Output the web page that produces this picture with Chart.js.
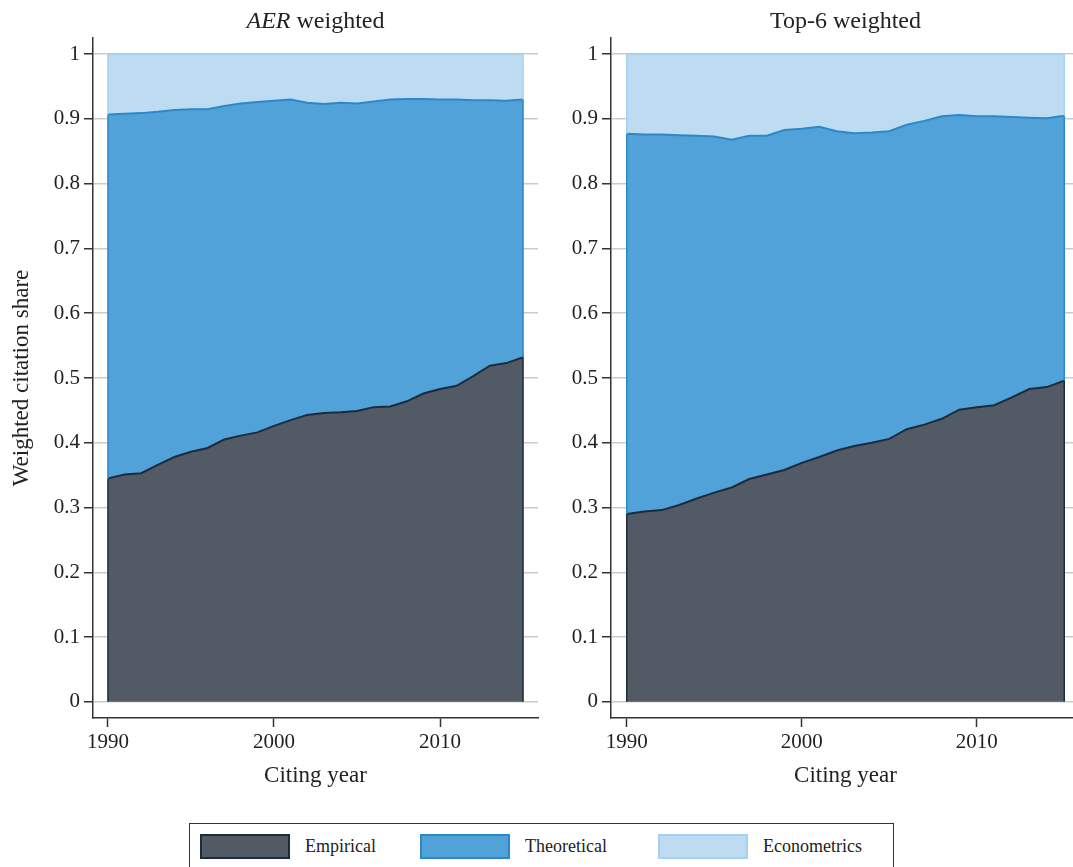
<!DOCTYPE html>
<html lang="en">
<head>
<meta charset="UTF-8">
<title>Weighted citation share</title>
<script src="https://cdn.jsdelivr.net/npm/chart.js"></script>
<style>
  body { margin: 0; width: 1073px; height: 867px; overflow: hidden; background: #fff;
         font-family: "Liberation Serif", serif; color: #222; position: relative; }
  canvas { position: absolute; top: 0; }
  #graficoAer { left: 0; }
  #graficoTop6 { left: 518px; }
  .titulo { position: absolute; top: 6px; font-size: 24px; line-height: 28px; text-align: center; }
  #tituloAer { left: 93px; width: 445px; }
  #tituloTop6 { left: 611px; width: 469px; }
  .legenda { position: absolute; left: 189px; top: 823px; width: 705px; height: 60px;
             border: 1.5px solid #333; box-sizing: border-box; }
  .item { position: absolute; top: 10px; display: flex; align-items: center; font-size: 18px; }
  .caixa { width: 86px; height: 21px; margin-right: 15px; border: 2px solid; }
</style>
</head>
<body>

<canvas id="graficoAer" width="545" height="808"></canvas>
<canvas id="graficoTop6" width="570" height="808"></canvas>
<div class="titulo" id="tituloAer"><i>AER</i> weighted</div>
<div class="titulo" id="tituloTop6">Top-6 weighted</div>
<div class="legenda" id="legenda"></div>

<script>
// citing years
const years = [1990, 1991, 1992, 1993, 1994, 1995, 1996, 1997, 1998, 1999, 2000, 2001, 2002,
               2003, 2004, 2005, 2006, 2007, 2008, 2009, 2010, 2011, 2012, 2013, 2014, 2015];

// AER weighted
const aerEmpirical = [0.345, 0.351, 0.353, 0.366, 0.378, 0.386, 0.392, 0.405, 0.411, 0.416, 0.426, 0.435, 0.443,
                      0.446, 0.447, 0.449, 0.455, 0.456, 0.464, 0.476, 0.483, 0.488, 0.503, 0.519, 0.523, 0.532];
const aerTheoretical = [0.562, 0.557, 0.556, 0.545, 0.536, 0.529, 0.523, 0.515, 0.513, 0.510, 0.502, 0.495, 0.482,
                        0.477, 0.478, 0.475, 0.472, 0.474, 0.467, 0.455, 0.447, 0.442, 0.426, 0.410, 0.405, 0.398];
const aerEconometrics = [0.093, 0.092, 0.091, 0.089, 0.086, 0.085, 0.085, 0.080, 0.076, 0.074, 0.072, 0.070, 0.075,
                         0.077, 0.075, 0.076, 0.073, 0.070, 0.069, 0.069, 0.070, 0.070, 0.071, 0.071, 0.072, 0.070];

// Top-6 weighted
const top6Empirical = [0.290, 0.294, 0.296, 0.304, 0.314, 0.323, 0.331, 0.344, 0.351, 0.358, 0.369, 0.378, 0.388,
                       0.395, 0.400, 0.406, 0.421, 0.428, 0.437, 0.451, 0.455, 0.458, 0.470, 0.483, 0.486, 0.496];
const top6Theoretical = [0.587, 0.582, 0.580, 0.571, 0.560, 0.550, 0.537, 0.530, 0.523, 0.525, 0.516, 0.510, 0.493,
                         0.483, 0.479, 0.475, 0.470, 0.469, 0.467, 0.455, 0.449, 0.446, 0.433, 0.419, 0.415, 0.409];
const top6Econometrics = [0.123, 0.124, 0.124, 0.125, 0.126, 0.127, 0.132, 0.126, 0.126, 0.117, 0.115, 0.112, 0.119,
                          0.122, 0.121, 0.119, 0.109, 0.103, 0.096, 0.094, 0.096, 0.096, 0.097, 0.098, 0.099, 0.095];

const seriesNames = ['Empirical', 'Theoretical', 'Econometrics'];
const xTicks = [1990, 2000, 2010];
const yTicks = [0, 0.1, 0.2, 0.3, 0.4, 0.5, 0.6, 0.7, 0.8, 0.9, 1];

const fills = ['#515a65', '#51a2d9', '#bedcf1'];
const borders = ['#1d2c3d', '#2c88c9', '#a9d1ee'];
const fonte = 'Liberation Serif';

// contorno vertical nas pontas de cada area (1990 e 2015)
const bordasLaterais = {
    id: 'bordasLaterais',
    afterDatasetsDraw(chart) {
        const ctx = chart.ctx;
        const base = chart.scales.y.getPixelForValue(0);
        ctx.save();
        ctx.lineWidth = 1.5;
        for (let i = chart.data.datasets.length - 1; i >= 0; i--) {
            const pts = chart.getDatasetMeta(i).data;
            const abaixo = i > 0 ? chart.getDatasetMeta(i - 1).data : null;
            ctx.strokeStyle = borders[i];
            [0, pts.length - 1].forEach(k => {
                ctx.beginPath();
                ctx.moveTo(pts[k].x, pts[k].y);
                ctx.lineTo(pts[k].x, abaixo ? abaixo[k].y : base);
                ctx.stroke();
            });
        }
        ctx.restore();
    }
};

function criarGrafico(id, valores, mostrarTituloY, padDireita) {
    new Chart(document.getElementById(id), {
        type: 'line',
        data: {
            labels: years,
            datasets: valores.map((serie, i) => ({
                label: seriesNames[i],
                data: serie,
                fill: i === 0 ? 'origin' : '-1',
                backgroundColor: fills[i],
                borderColor: borders[i],
                borderWidth: 2,
                pointRadius: 0,
                tension: 0
            }))
        },
        options: {
            responsive: false,
            animation: false,
            layout: { padding: { top: 38, right: padDireita, bottom: 18, left: 0 } },
            plugins: { legend: { display: false }, tooltip: { enabled: false } },
            scales: {
                x: {
                    type: 'linear',
                    min: 1989.1,
                    max: 2015.9,
                    afterBuildTicks: s => { s.ticks = xTicks.map(v => ({ value: v })); },
                    afterFit: s => { s.height = 72; },
                    grid: { drawOnChartArea: false, tickLength: 9, tickColor: '#333', tickWidth: 1.5 },
                    border: { color: '#333', width: 1.5 },
                    ticks: { font: { family: fonte, size: 21 }, color: '#222', padding: 3,
                             maxRotation: 0, autoSkip: false, callback: v => String(v) },
                    title: { display: true, text: 'Citing year', color: '#222',
                             font: { family: fonte, size: 23 }, padding: { top: 0, bottom: 0 } }
                },
                y: {
                    stacked: true,
                    min: -0.025,
                    max: 1.025,
                    afterBuildTicks: s => { s.ticks = yTicks.map(v => ({ value: v })); },
                    afterFit: s => { s.width = 93; },
                    grid: { color: '#cbcbcb', lineWidth: 1.5, tickLength: 9, tickColor: '#333', tickWidth: 1.5 },
                    border: { color: '#333', width: 1.5 },
                    ticks: { font: { family: fonte, size: 21 }, color: '#222', padding: 4,
                             callback: v => String(v) },
                    title: { display: mostrarTituloY, text: 'Weighted citation share', color: '#222',
                             font: { family: fonte, size: 23 }, padding: { top: 8, bottom: 0 } }
                }
            }
        },
        plugins: [bordasLaterais]
    });
}

criarGrafico('graficoAer', [aerEmpirical, aerTheoretical, aerEconometrics], true, 7);
criarGrafico('graficoTop6', [top6Empirical, top6Theoretical, top6Econometrics], false, 8);

// legenda
const posicoes = [10, 230, 468];
document.getElementById('legenda').innerHTML = seriesNames.map((nome, i) => `
    <div class="item" style="left:${posicoes[i]}px">
        <div class="caixa" style="background:${fills[i]};border-color:${borders[i]}"></div>${nome}
    </div>`).join('');
</script>
</body>
</html>
